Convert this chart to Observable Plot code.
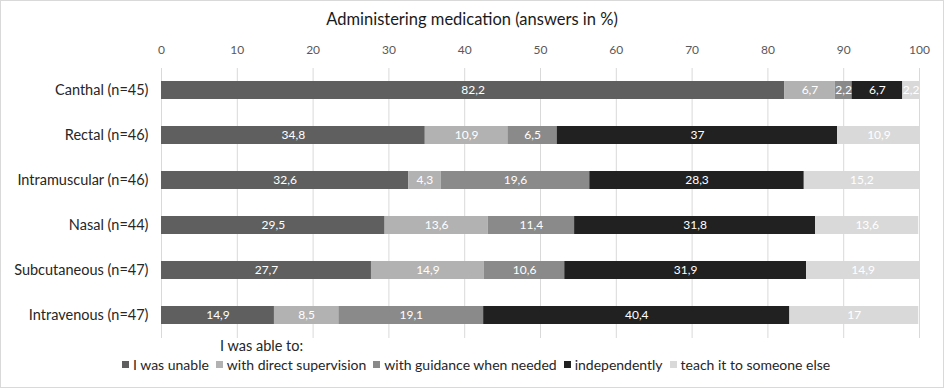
<!DOCTYPE html>
<html>
<head>
<meta charset="utf-8">
<script src="https://cdn.jsdelivr.net/npm/d3@7"></script>
<script src="https://cdn.jsdelivr.net/npm/@observablehq/plot@0.6"></script>
<style>
  html, body { margin: 0; padding: 0; background: #fff; }
  #wrap { position: relative; width: 944px; height: 388px; font-family: Lato, "Open Sans", sans-serif; overflow: hidden; }
  #border { position: absolute; left: 0; top: 0; width: 942px; height: 386px; border: 1px solid #d9d9d9; box-sizing: content-box; pointer-events: none; }
  #title { position: absolute; top: 9px; left: 0; width: 944px; text-align: center; font-size: 16.5px; color: #1a1a1a; }
  #chart { position: absolute; top: 35px; left: 0; }
  #legtitle { position: absolute; top: 337px; left: 220px; font-size: 14.5px; color: #262626; }
  #legend { position: absolute; top: 356px; left: 122px; display: flex; align-items: center; font-size: 14px; color: #262626; white-space: nowrap; }
  .item { display: flex; align-items: center; margin-right: 7px; }
  .sw { width: 7px; height: 7px; margin-right: 4px; }
</style>
</head>
<body>
<div id="wrap">
  <div id="title">Administering medication (answers in %)</div>
  <div id="chart"></div>
  <div id="legtitle">I was able to:</div>
  <div id="legend"></div>
  <div id="border"></div>
</div>
<script>
const categories = ["Canthal (n=45)", "Rectal (n=46)", "Intramuscular (n=46)", "Nasal (n=44)", "Subcutaneous (n=47)", "Intravenous (n=47)"];
const series = ["I was unable", "with direct supervision", "with guidance when needed", "independently", "teach it to someone else"];
const unable      = [82.2, 34.8, 32.6, 29.5, 27.7, 14.9];
const direct      = [6.7, 10.9, 4.3, 13.6, 14.9, 8.5];
const guidance    = [2.2, 6.5, 19.6, 11.4, 10.6, 19.1];
const independent = [6.7, 37, 28.3, 31.8, 31.9, 40.4];
const teach       = [2.2, 10.9, 15.2, 13.6, 14.9, 17];
const xTicks = [0, 10, 20, 30, 40, 50, 60, 70, 80, 90, 100];
const colors = ["#5f5f5f", "#b2b2b2", "#8a8a8a", "#212121", "#d9d9d9"];

const valueSets = [unable, direct, guidance, independent, teach];
const data = [];
categories.forEach((c, i) => {
  series.forEach((s, j) => data.push({cat: c, series: s, value: valueSets[j][i]}));
});
const fmt = v => String(v).replace(".", ",");

const plot = Plot.plot({
  width: 944,
  height: 305,
  marginTop: 33,
  marginBottom: 2,
  marginLeft: 161,
  marginRight: 25,
  style: {fontFamily: "Lato, 'Open Sans', sans-serif", background: "transparent"},
  x: {domain: [0, 100], axis: null},
  y: {domain: categories, axis: null, paddingInner: 0.6, paddingOuter: 0.3},
  color: {domain: series, range: colors},
  marks: [
    Plot.gridX(xTicks, {stroke: "#d9d9d9", strokeOpacity: 1, strokeWidth: 1}),
    Plot.axisX(xTicks, {anchor: "top", tickSize: 0, tickPadding: 15, fontSize: 12, fill: "#595959", label: null, tickFormat: d => String(d)}),
    Plot.axisY({tickSize: 0, tickPadding: 13, fontSize: 14.5, fill: "#262626", label: null}),
    Plot.barX(data, Plot.stackX({x: "value", y: "cat", z: "series", fill: "series", order: series})),
    Plot.text(data, Plot.stackX({x: "value", y: "cat", z: "series", order: series, text: d => fmt(d.value), fill: "white", fontSize: 12}))
  ]
});
document.getElementById("chart").appendChild(plot);

const leg = document.getElementById("legend");
series.forEach((s, j) => {
  const it = document.createElement("div");
  it.className = "item";
  const sw = document.createElement("div");
  sw.className = "sw";
  sw.style.background = colors[j];
  const t = document.createElement("span");
  t.textContent = s;
  it.appendChild(sw);
  it.appendChild(t);
  leg.appendChild(it);
});
</script>
</body>
</html>
